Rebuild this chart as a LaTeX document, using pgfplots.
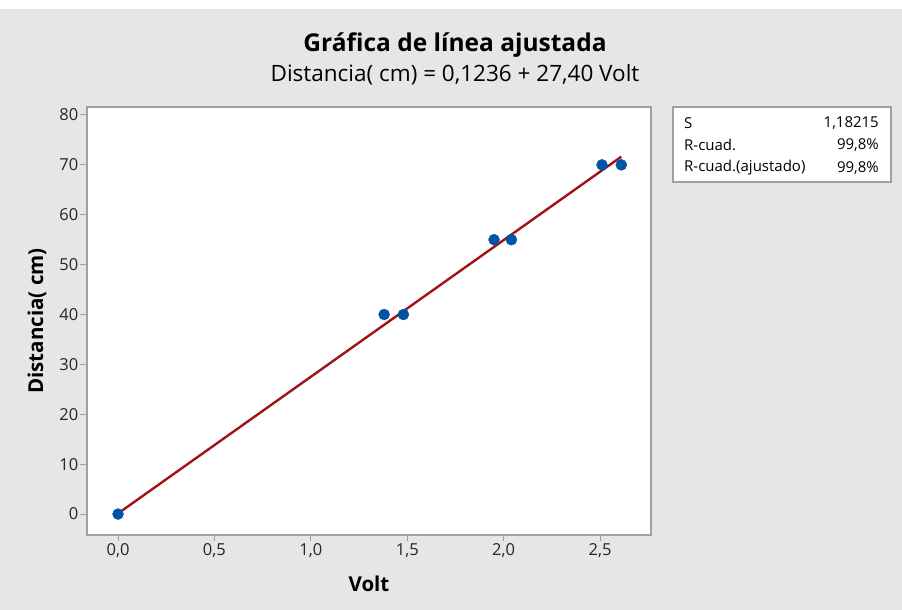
\documentclass[border=0pt]{standalone}
\usepackage{fontspec}
\setmainfont{Open Sans}
\usepackage{pgfplots}
\pgfplotsset{compat=1.18}
\definecolor{bg}{RGB}{230,230,230}
\definecolor{frame}{RGB}{160,160,160}
\definecolor{ptblue}{RGB}{0,84,166}
\definecolor{fitred}{RGB}{160,20,25}
\begin{document}
\begin{tikzpicture}[x=1pt,y=1pt]
\useasboundingbox (0,0) rectangle (902,610);
\fill[white] (0,0) rectangle (902,610);
\fill[bg] (0,0) rectangle (902,601);
\node[font=\fontsize{24.5}{28}\selectfont\bfseries, anchor=base] at (455,558) {Gráfica de línea ajustada};
\node[font=\fontsize{22.5}{26}\selectfont, anchor=base] at (455,528) {Distancia( cm) = 0,1236 + 27,40 Volt};
\begin{axis}[
  at={(87pt,75pt)}, anchor=south west,
  scale only axis, width=564pt, height=428pt,
  xmin=-0.161, xmax=2.764, ymin=-4.2, ymax=81.6,
  axis background/.style={fill=white},
  axis line style={frame, line width=1.5pt},
  axis x line*=bottom, axis y line*=left,
  xtick={0,0.5,1,1.5,2,2.5},
  ytick={0,10,20,30,40,50,60,70,80},
  tick align=outside, major tick length=6.5pt,
  every tick/.style={frame, line width=1pt},
  /pgf/number format/assume math mode=true,
  xticklabel style={/pgf/number format/.cd, fixed, fixed zerofill, precision=1, use comma},
  yticklabel style={/pgf/number format/.cd, fixed, precision=0},
  tick label style={font=\fontsize{16.5}{19}\selectfont, text=black!85, inner sep=2pt},
  xlabel={Volt}, ylabel={Distancia( cm)},
  label style={font=\fontsize{20.5}{24}\selectfont\bfseries},
  xlabel style={at={(axis description cs:0.5,-0.114)}, anchor=center},
  ylabel style={at={(axis description cs:-0.0887,0.5)}, anchor=center},
  clip=false,
]
\draw[frame, line width=1.5pt] (rel axis cs:0,0) rectangle (rel axis cs:1,1);
\addplot[fitred, line width=2.4pt, no marks] coordinates {(0,0.1236) (2.61,71.6376)};
\addplot[only marks, mark=*, mark size=5.5pt, ptblue, mark options={fill=ptblue, draw=ptblue}] coordinates {
(0,0) (1.38,40) (1.48,40) (1.95,55) (2.04,55) (2.51,70) (2.61,70)};
\end{axis}
\draw[fill=white, draw=frame, line width=1.2pt] (673,428) rectangle (891,503);
\begin{scope}[every node/.style={font=\fontsize{15}{18}\selectfont, inner sep=0pt}]
\node[anchor=west] at (684,487) {S};
\node[anchor=west] at (684,465) {R-cuad.};
\node[anchor=west] at (684,442) {R-cuad.(ajustado)};
\node[anchor=east] at (879,487) {1,18215};
\node[anchor=east] at (879,465) {99,8\%};
\node[anchor=east] at (879,442) {99,8\%};
\end{scope}
\end{tikzpicture}
\end{document}
